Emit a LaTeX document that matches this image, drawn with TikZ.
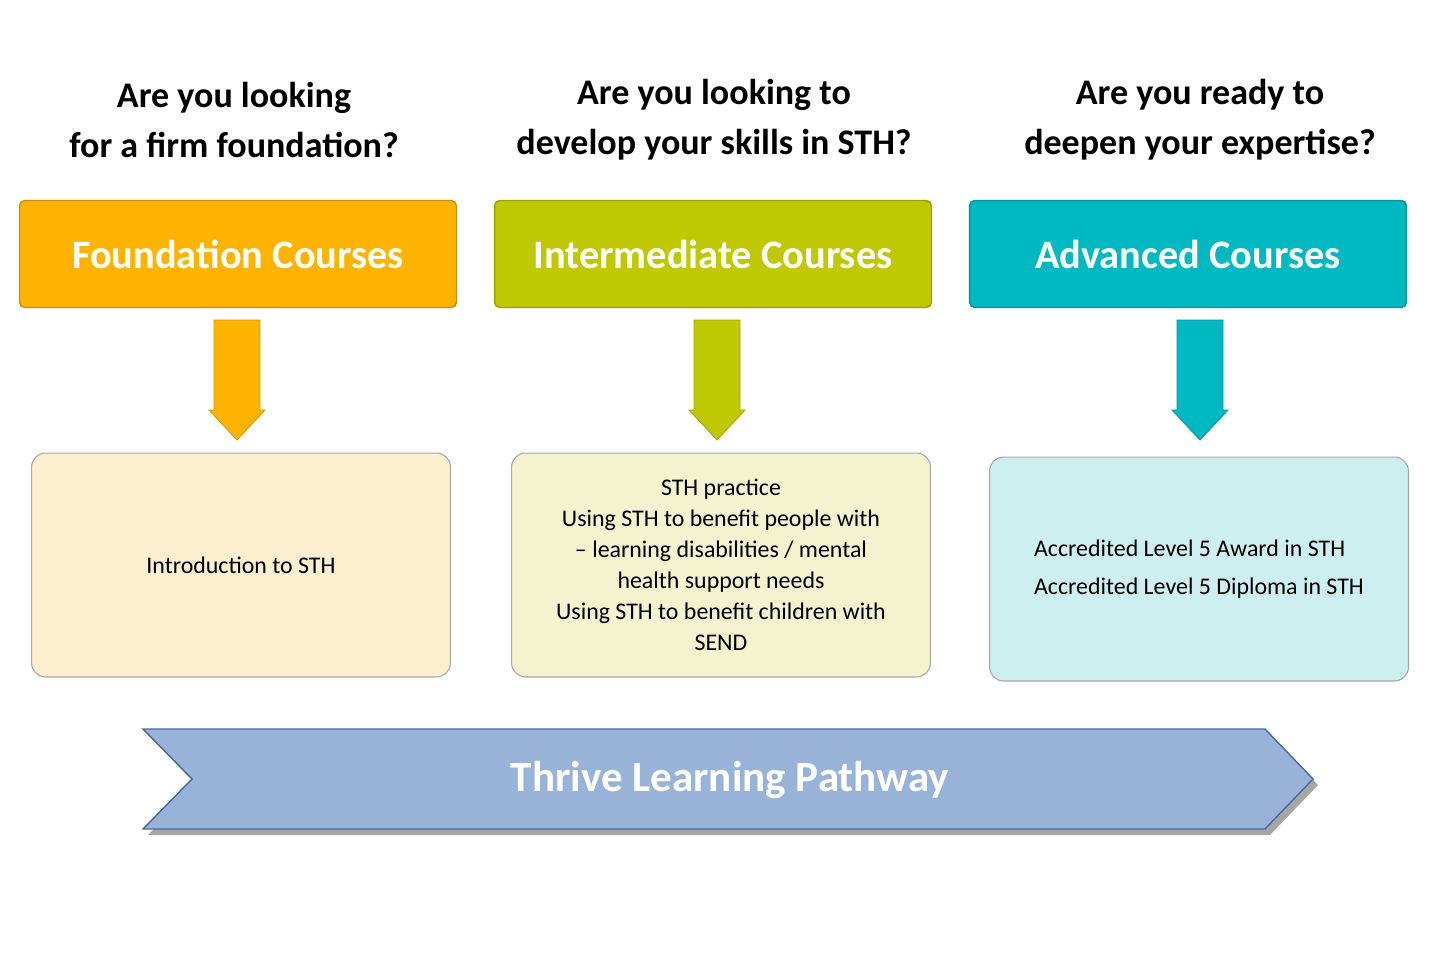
\documentclass[tikz,border=0pt]{standalone}
\usepackage{fontspec}
\setmainfont{Carlito}
\usetikzlibrary{positioning}
\definecolor{foundC}{HTML}{FDB300}
\definecolor{interC}{HTML}{BFC800}
\definecolor{advC}{HTML}{00B8C0}
\definecolor{foundL}{HTML}{FDEFD0}
\definecolor{interL}{HTML}{F3F4CF}
\definecolor{advL}{HTML}{CDEFF0}
\definecolor{pathC}{HTML}{98B2D8}
\definecolor{pathD}{HTML}{4A6A9A}
\tikzset{
    question/.style={font=\fontsize{20.5}{28.5}\selectfont\bfseries, align=center},
    level/.style={draw=#1!80!black, fill=#1, rounded corners=3pt, line width=0.8pt,
                  minimum width=8.74cm, minimum height=2.14cm,
                  text=white, font=\fontsize{23}{28}\selectfont\bfseries},
    detail/.style={draw=gray!70, fill=#1, rounded corners=8pt, line width=0.6pt,
                   minimum width=8.38cm, minimum height=4.48cm,
                   font=\fontsize{13.6}{17.6}\selectfont, align=center}
}
\begin{document}
\begin{tikzpicture}[x=0.02cm,y=-0.02cm]
    \useasboundingbox (0,0) rectangle (1440,960);

    % Questions
    \node[question] (q1) at (234,120) {Are you looking\\for a firm foundation?};
    \node[question] (q2) at (714,120) {Are you looking to\\develop your skills in STH?};
    \node[question] (q3) at (1200,120) {Are you ready to\\deepen your expertise?};

    % Levels
    \node[level=foundC] (found) at (238,254) {Foundation Courses};
    \node[level=interC] (inter) at (713,254) {Intermediate Courses};
    \node[level=advC] (adv) at (1188,254) {Advanced Courses};

    % Down arrows
    \foreach \cx/\col in {237/foundC,717/interC,1200/advC}{
        \fill[\col, draw=\col!85!black, line width=0.5pt]
            (\cx-23,320) -- (\cx+23,320) -- (\cx+23,410) -- (\cx+28,410)
            -- (\cx,440) -- (\cx-28,410) -- (\cx-23,410) -- cycle;
    }

    % Details
    \node[detail=foundL] (d1) at (241,565) {Introduction to STH};
    \node[detail=interL] (d2) at (721,565) {STH practice\\Using STH to benefit people with\\– learning disabilities / mental\\health support needs\\Using STH to benefit children with\\SEND};
    \node[detail=advL, align=left] (d3) at (1199,569) {Accredited Level 5 Award in STH\\[4pt]Accredited Level 5 Diploma in STH};

    % Pathway
    \fill[black!35] (148,735) -- (1270,735) -- (1318,785) -- (1270,835) -- (148,835) -- (197,785) -- cycle;
    \draw[pathD, fill=pathC, line width=0.8pt]
        (143,729) -- (1265,729) -- (1313,779) -- (1265,829) -- (143,829) -- (192,779) -- cycle;
    \node[text=white, font=\fontsize{24.5}{28}\selectfont\bfseries] (path) at (730,780) {Thrive Learning Pathway};
\end{tikzpicture}
\end{document}
